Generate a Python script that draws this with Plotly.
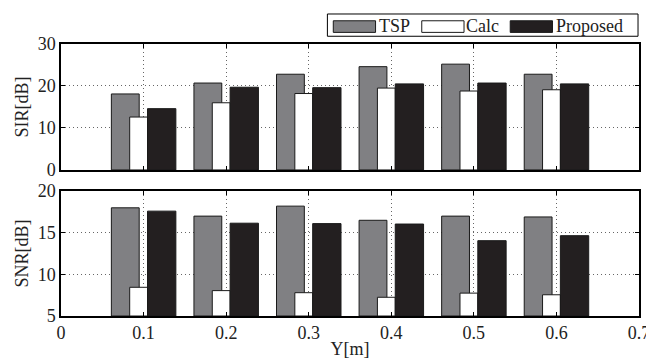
import plotly.graph_objects as go

# ---- data ----
positions = [0.1, 0.2, 0.3, 0.4, 0.5, 0.6]
sir_tsp = [18.1, 20.7, 22.8, 24.6, 25.2, 22.8]
sir_calc = [12.6, 16.0, 18.2, 19.5, 18.8, 19.1]
sir_prop = [14.6, 19.7, 19.6, 20.5, 20.7, 20.5]
snr_tsp = [18.0, 17.0, 18.2, 16.5, 17.0, 16.9]
snr_calc = [8.45, 8.05, 7.8, 7.25, 7.75, 7.55]
snr_prop = [17.6, 16.15, 16.1, 16.05, 14.05, 14.65]
series_names = ["TSP", "Calc", "Proposed"]
x_ticks = [0, 0.1, 0.2, 0.3, 0.4, 0.5, 0.6, 0.7]

colors = ["#808083", "#ffffff", "#231f20"]
offsets = [-0.0390, -0.0168, 0.0048]
widths = [0.0337, 0.0216, 0.0343]
FONT = "'Liberation Serif', 'Times New Roman', Times, serif"
FS = 18

fig = go.Figure()
for row, (vals, base) in enumerate([((sir_tsp, sir_calc, sir_prop), 0), ((snr_tsp, snr_calc, snr_prop), 5)]):
    xa = "x" if row == 0 else "x2"
    ya = "y" if row == 0 else "y2"
    for i, v in enumerate(vals):
        fig.add_trace(go.Bar(
            x=positions, y=[val - base for val in v], base=base,
            name=series_names[i], offset=offsets[i], width=widths[i],
            marker=dict(color=colors[i], line=dict(color="#1a1a1a", width=1)),
            xaxis=xa, yaxis=ya, showlegend=False,
        ))

axis_common = dict(
    showline=True, linecolor="black", linewidth=1.5, mirror="ticks",
    ticks="inside", ticklen=4, tickcolor="black",
    showgrid=True, gridcolor="#666666", griddash="1px,3px", gridwidth=1,
    zeroline=False, tickfont=dict(family=FONT, size=FS, color="#222"),
)

fig.update_layout(
    width=654, height=360,
    margin=dict(l=53, r=13, t=36, b=43),
    paper_bgcolor="white", plot_bgcolor="white",
    barmode="overlay", showlegend=False,
    font=dict(family=FONT, size=FS, color="#222"),
    xaxis=dict(domain=[0, 1], range=[0, 0.7], anchor="y", tickvals=x_ticks,
               showticklabels=False, **axis_common),
    yaxis=dict(domain=[0.537, 1], range=[0, 30], anchor="x", tickvals=[0, 10, 20, 30],
               title=dict(text="SIR[dB]", standoff=4, font=dict(family=FONT, size=FS)),
               **axis_common),
    xaxis2=dict(domain=[0, 1], range=[0, 0.7], anchor="y2", tickvals=x_ticks,
                ticktext=[str(t) for t in x_ticks],
                title=dict(text="Y[m]", standoff=0, font=dict(family=FONT, size=FS)),
                **axis_common),
    yaxis2=dict(domain=[0, 0.459], range=[5, 20], anchor="x2", tickvals=[5, 10, 15, 20],
                title=dict(text="SNR[dB]", standoff=4, font=dict(family=FONT, size=FS)),
                **axis_common),
)

# custom legend box (MATLAB-style wide swatches)
def px_x(px):
    return (px - 53) / 588

def px_y(py):
    return (317 - py) / 281

fig.add_shape(type="rect", xref="paper", yref="paper",
              x0=px_x(324), x1=px_x(640), y0=px_y(28), y1=px_y(5),
              line=dict(color="black", width=1), fillcolor="white")
swatch_x = [330, 420, 510]
text_x = [374, 463, 555]
for i, name in enumerate(series_names):
    fig.add_shape(type="rect", xref="paper", yref="paper",
                  x0=px_x(swatch_x[i]), x1=px_x(swatch_x[i] + 43),
                  y0=px_y(24), y1=px_y(12),
                  line=dict(color="#1a1a1a", width=1), fillcolor=colors[i])
    fig.add_annotation(xref="paper", yref="paper", x=px_x(text_x[i]), y=px_y(17),
                       text=name, showarrow=False, xanchor="left", yanchor="middle",
                       font=dict(family=FONT, size=FS, color="#222"))

fig.write_html("out.html")
